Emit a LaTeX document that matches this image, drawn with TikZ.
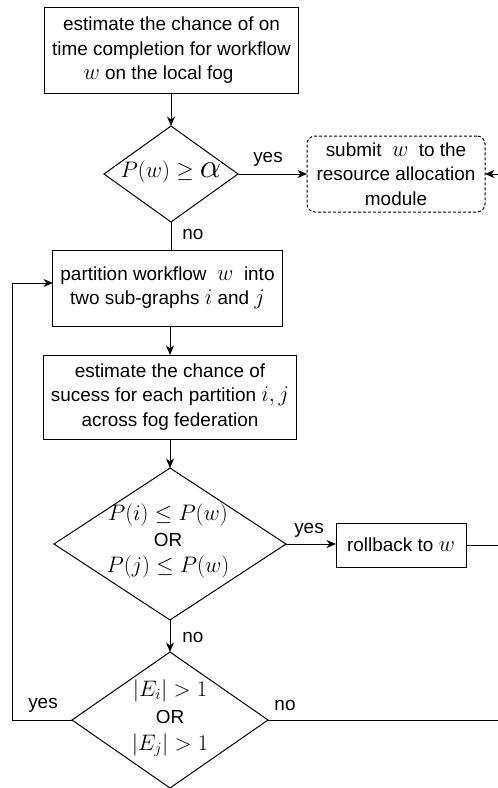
\RequirePackage{fix-cm}
\documentclass[tikz,border=0pt]{standalone}
\usepackage[no-math]{fontspec}
\setmainfont{Liberation Sans}
\usetikzlibrary{arrows.meta,shapes.geometric}

\newcommand{\txt}{\fontsize{19}{24.5}\selectfont}
\newcommand{\mth}[1]{{\fontsize{22.5}{24.5}\selectfont$#1$}}

\tikzset{
  every node/.style={font=\txt, inner sep=0pt, outer sep=0pt},
  procbox/.style={draw, line width=1bp, rectangle, align=center, anchor=center},
  decide/.style={draw, line width=1bp},
  conn/.style={line width=1bp},
  arr/.style={conn, -{Stealth[length=9.5bp, width=8bp, inset=3bp]}},
  lbl/.style={font=\txt, anchor=center},
}

\begin{document}
\begin{tikzpicture}[x=1bp, y=-1bp]
  \useasboundingbox (0,0) rectangle (498,788);

  % process boxes
  \node[procbox, minimum width=253bp, minimum height=85bp] (est) at (171.5,50.5)
    {estimate the chance of on\\time completion for workflow\\\mth{w} on the local fog\hspace*{26bp}};
  \node[procbox, minimum width=229bp, minimum height=76bp] (part) at (167.5,288)
    {partition workflow \ \mth{w} \ into\\two sub-graphs \mth{i} and \mth{j}\ };
  \node[procbox, minimum width=252bp, minimum height=84bp] (succ) at (170,397)
    {estimate the chance of\\sucess for each partition \mth{i,j}\\across fog federation};
  \node[procbox, minimum width=130bp, minimum height=44bp] (roll) at (401,545)
    {rollback to \mth{w}};
  \node[procbox, dashed, dash pattern=on 3bp off 2bp, rounded corners=8bp,
        minimum width=178bp, minimum height=76bp] (submit) at (396,174)
    {submit \ \mth{w} \ to the\\resource allocation\\module};

  % decisions
  \draw[decide] (104,174) -- (171,126) -- (238,174) -- (171,222) -- cycle;
  \coordinate (d1n) at (171,126);
  \coordinate (d1e) at (238,174);
  \coordinate (d1s) at (171,222);
  \node (d1) at (171,172)
    {\mth{P(w)\geq\mbox{\fontsize{34}{34}\selectfont$\alpha$}}};

  \draw[decide] (54,544) -- (170,468) -- (286,544) -- (170,620) -- cycle;
  \coordinate (d2n) at (170,468);
  \coordinate (d2e) at (286,544);
  \coordinate (d2s) at (170,620);
  \node[align=center, font=\fontsize{19}{26}\selectfont] (d2) at (168,541)
    {\mth{P(i)\leq P(w)}\\OR\\\mth{P(j)\leq P(w)}};

  \draw[decide] (72,720) -- (170,652) -- (268,720) -- (170,788) -- cycle;
  \coordinate (d3n) at (170,652);
  \coordinate (d3w) at (72,720);
  \coordinate (d3e) at (268,720);
  \node[align=center, font=\fontsize{19}{27}\selectfont] (d3) at (170,718)
    {\mth{|E_i|>1}\\OR\\\mth{|E_j|>1}};

  % connector ends at the right border and the loop corners
  \coordinate (rin) at (498,174);
  \coordinate (rout1) at (498,545);
  \coordinate (rout2) at (498,720);
  \coordinate (loopa) at (12,720);
  \coordinate (loopb) at (12,283);
  \coordinate (partin) at (53,283);

  % connectors
  \draw[arr] (est.south -| d1n) -- (d1n);
  \draw[arr] (d1e) -- (submit.west);
  \draw[arr] (rin) -- (submit.east);
  \draw[conn] (d1s) -- (d1s |- part.north);
  \draw[arr] (part.south -| succ.north) -- (succ.north);
  \draw[arr] (succ.south -| d2n) -- (d2n);
  \draw[arr] (d2e) -- (d2e -| roll.west);
  \draw[conn] (roll.east) -- (rout1);
  \draw[arr] (d2s) -- (d3n);
  \draw[conn] (d3e) -- (rout2);
  \draw[arr] (d3w) -- (loopa) -- (loopb) -- (partin);

  % branch labels
  \node[lbl] (y1) at (268,159) {yes};
  \node[lbl] (n1) at (193,234) {no};
  \node[lbl] (y2) at (309,530) {yes};
  \node[lbl] (n2) at (193,637) {no};
  \node[lbl] (y3) at (43,705) {yes};
  \node[lbl] (n3) at (285,705) {no};
\end{tikzpicture}
\end{document}
